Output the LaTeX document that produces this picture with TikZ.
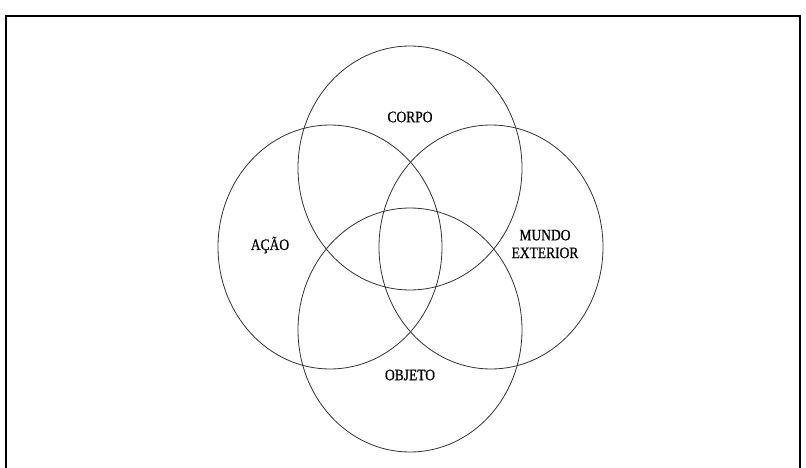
\documentclass[tikz,border=0pt]{standalone}
\usepackage{fontspec}
\setmainfont{Liberation Serif}
\newfontfamily\lblfont[FakeBold=0.8]{Liberation Serif}
\usetikzlibrary{shapes.geometric, positioning}
\tikzset{
    setbox/.style={ellipse, draw=black!80, line width=0.8pt,
                   minimum width=224pt, minimum height=244pt, inner sep=0pt},
    lbl/.style={font=\lblfont\fontsize{13.5}{15}\selectfont, align=center,
                inner sep=1pt, yscale=1.18, transform shape}
}
\begin{document}
\begin{tikzpicture}[x=1pt, y=-1pt]
\useasboundingbox (0,0) rectangle (806,468);
% frame
\draw[line width=1.8pt] (6,470) -- (6,16) -- (800,16) -- (800,470);

\node[setbox] at (410,168) (corpo)  {};
\node[setbox] at (330,247) (acao)   {};
\node[setbox] at (491,247) (mundo)  {};
\node[setbox] at (410,330) (objeto) {};

% labels
\node[lbl] at (410,117) (tcorpo)  {CORPO};
\node[lbl] at (270,245) (tacao)   {AÇÃO};
\node[lbl] at (545,244) (tmundo)  {MUNDO\\EXTERIOR};
\node[lbl] at (410,375) (tobjeto) {OBJETO};
\end{tikzpicture}
\end{document}
